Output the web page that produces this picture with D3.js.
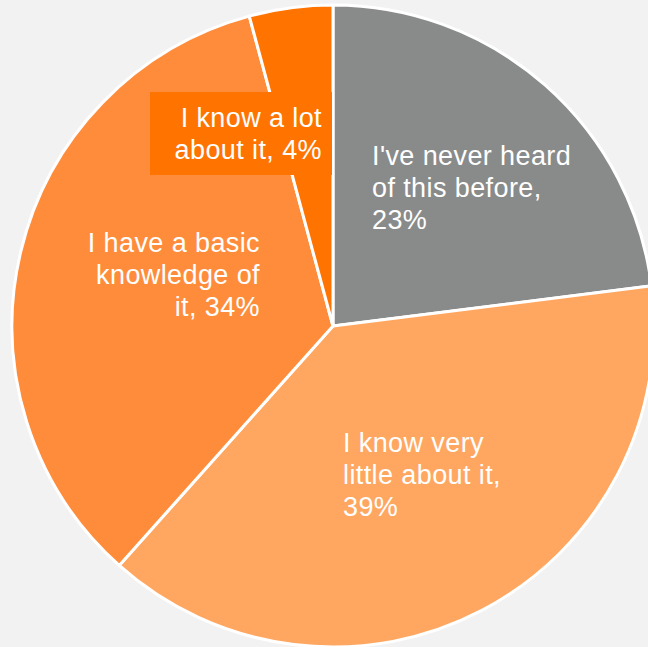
<!DOCTYPE html>
<html>
<head>
<meta charset="utf-8">
<script src="https://cdn.jsdelivr.net/npm/d3@7"></script>
<style>
  body { margin: 0; background: #f2f2f2; }
  svg { display: block; }
</style>
</head>
<body>
<svg id="chart" width="648" height="647"></svg>
<script>
// data, clockwise from 12 o'clock (shares)
var categories = ["I've never heard of this before", "I know very little about it", "I have a basic knowledge of it", "I know a lot about it"];
var values = [23.0, 38.6, 34.2, 4.2];
var labelLines = [
    ["I've never heard", "of this before,", "23%"],
    ["I know very", "little about it,", "39%"],
    ["I have a basic", "knowledge of", "it, 34%"],
    ["I know a lot", "about it, 4%"]
];
var colors = ["#898b8b", "#ffa761", "#ff8c3a", "#ff7301"];

var width = 648, height = 647;
var cx = 333, cy = 326, radius = 321;

var svg = d3.select("#chart");

var pie = d3.pie().sort(null).value(function (d) { return d; });
var arc = d3.arc().innerRadius(0).outerRadius(radius);

var g = svg.append("g").attr("transform", "translate(" + [cx, cy] + ")");

g.selectAll(".slice")
    .data(pie(values))
    .enter()
    .append("path")
    .attr("class", "slice")
    .attr("d", arc)
    .attr("fill", function (d, i) { return colors[i]; })
    .attr("stroke", "#ffffff")
    .attr("stroke-width", 3)
    .attr("stroke-linejoin", "round");

// label placement (x, y of first baseline, anchor), relative to page
var labelPos = [
    { x: 372, y: 165, anchor: "start" },
    { x: 343, y: 452, anchor: "start" },
    { x: 260, y: 252, anchor: "end" },
    { x: 322, y: 127, anchor: "end" }
];
var lineHeight = 32;

// the small slice gets a filled box behind its label
svg.append("rect")
    .attr("x", 150).attr("y", 92)
    .attr("width", 182).attr("height", 83)
    .attr("fill", colors[3]);

labelLines.forEach(function (lines, i) {
    var t = svg.append("text")
        .attr("x", labelPos[i].x)
        .attr("y", labelPos[i].y)
        .attr("text-anchor", labelPos[i].anchor)
        .style("font-family", "'Liberation Sans', Arial, sans-serif")
        .style("font-size", "27px")
        .style("letter-spacing", "0.4px")
        .style("fill", "#ffffff");
    lines.forEach(function (l, j) {
        t.append("tspan")
            .attr("x", labelPos[i].x)
            .attr("y", labelPos[i].y + j * lineHeight)
            .text(l);
    });
});
</script>
</body>
</html>
